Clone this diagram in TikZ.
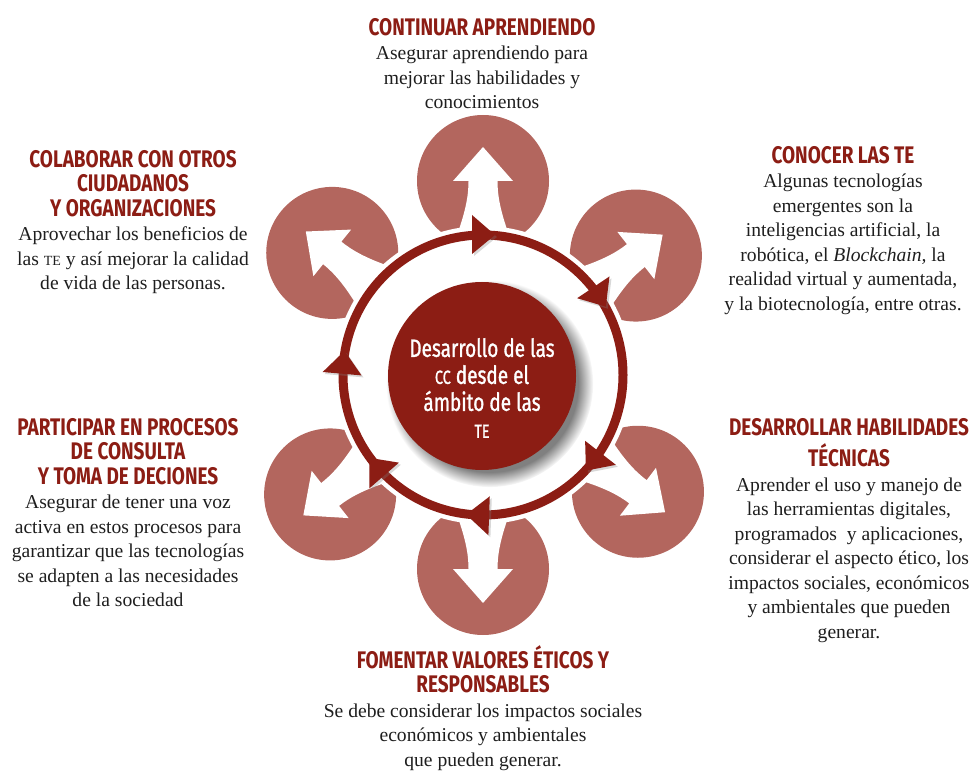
\documentclass[tikz,border=0pt]{standalone}
\usepackage{fontspec}
\setmainfont{Liberation Serif}
\newfontfamily\headfont{Fira Sans}[FakeStretch=0.79]
\newfontfamily\corefont{Fira Sans}[FakeStretch=0.76,FakeBold=1.2]
\usetikzlibrary{positioning,shadows}
\definecolor{Wine}{HTML}{8C1D14}
\definecolor{Rose}{HTML}{B3665E}
\definecolor{Ink}{HTML}{1E1E1E}
\newcommand{\hd}[1]{{\headfont\bfseries\fontsize{24}{24.5}\selectfont\color{Wine}\strut#1}}
\newcommand{\smcbody}[1]{{\fontsize{14}{24.5}\selectfont #1}}
\newcommand{\smccore}[1]{{\fontsize{19}{27}\selectfont #1}}

\begin{document}
\begin{tikzpicture}[x=1pt,y=1pt,
  blurb/.style={align=center,inner sep=0pt,anchor=north,text=Ink,font=\fontsize{19.6}{24.5}\selectfont},
  core/.style={circle,fill=Wine,minimum size=188pt,inner sep=0pt,
    circular drop shadow={shadow xshift=7pt,shadow yshift=-7pt,shadow scale=1.1}},
  corelabel/.style={align=center,text=white,inner sep=0pt,font=\corefont\fontsize{25}{27}\selectfont},
  ringtip/.style={fill=Wine,drop shadow={opacity=.3,shadow xshift=2pt,shadow yshift=-2pt}}]
  \useasboundingbox (0,0) rectangle (974,772);
  \coordinate (hub) at (483,397);
  \foreach \a in {90,38,-37,-90,218,141}{
    \fill[Rose] (hub) ++(\a:194) circle (66);
    \fill[white,shift={(hub)},rotate=\a] (140,-26) .. controls (165,-17) and (180,-14.5) .. (194,-14.5)
      -- (194,-30) -- (228,0) -- (194,30) -- (194,14.5) .. controls (180,14.5) and (165,17) .. (140,26) -- cycle;
  }
  \fill[white] (hub) circle (149);
  \draw[Wine,line width=9pt] (hub) circle (140);
  \foreach \a in {90,34,-38,-92,221,175}
    \fill[ringtip,shift={(hub)},rotate=\a] (140,-12) -- (160,11) -- (121,11) -- cycle;

  \node[core] (disc) at (482,396) {};
  \node[corelabel] (disclabel) at ([yshift=-12pt]disc.center)
    {Desarrollo de las\\ \smccore{CC} desde el\\ ámbito de las\\ \smccore{TE}};

  \node[blurb] (learn) at (482,754) {\hd{CONTINUAR APRENDIENDO}\\
    Asegurar aprendiendo para\\ mejorar las habilidades y\\ conocimientos};
  \node[blurb] (collab) at (133,622) {\hd{COLABORAR CON OTROS}\\ \hd{CIUDADANOS}\\ \hd{Y ORGANIZACIONES}\\
    Aprovechar los beneficios de\\ las \smcbody{TE} y así mejorar la calidad\\ de vida de las personas.};
  \node[blurb] (know) at (843,626) {\hd{CONOCER LAS TE}\\
    Algunas tecnologías\\ emergentes son la\\ inteligencias artificial, la\\
    robótica, el \textit{Blockchain,} la\\ realidad virtual y aumentada,\\ y la biotecnología, entre otras.};
  \node[blurb] (part) at (128,354) {\hd{PARTICIPAR EN PROCESOS}\\ \hd{DE CONSULTA}\\ \hd{Y TOMA DE DECIONES}\\
    Asegurar de tener una voz\\ activa en estos procesos para\\ garantizar que las tecnologías\\
    se adapten a las necesidades\\ de la sociedad};
  \node[blurb] (skills) at (849,354) {\hd{DESARROLLAR HABILIDADES}\\ \hd{TÉCNICAS}\\
    Aprender el uso y manejo de\\ las herramientas digitales,\\ programados\ \ y aplicaciones,\\
    considerar el aspecto ético, los\\ impactos sociales, económicos\\ y ambientales que pueden\\ generar.};
  \node[blurb] (values) at (483,127) {\hd{FOMENTAR VALORES ÉTICOS Y}\\ \hd{RESPONSABLES}\\
    Se debe considerar los impactos sociales\\ económicos y ambientales\\ que pueden generar.};
\end{tikzpicture}
\end{document}
